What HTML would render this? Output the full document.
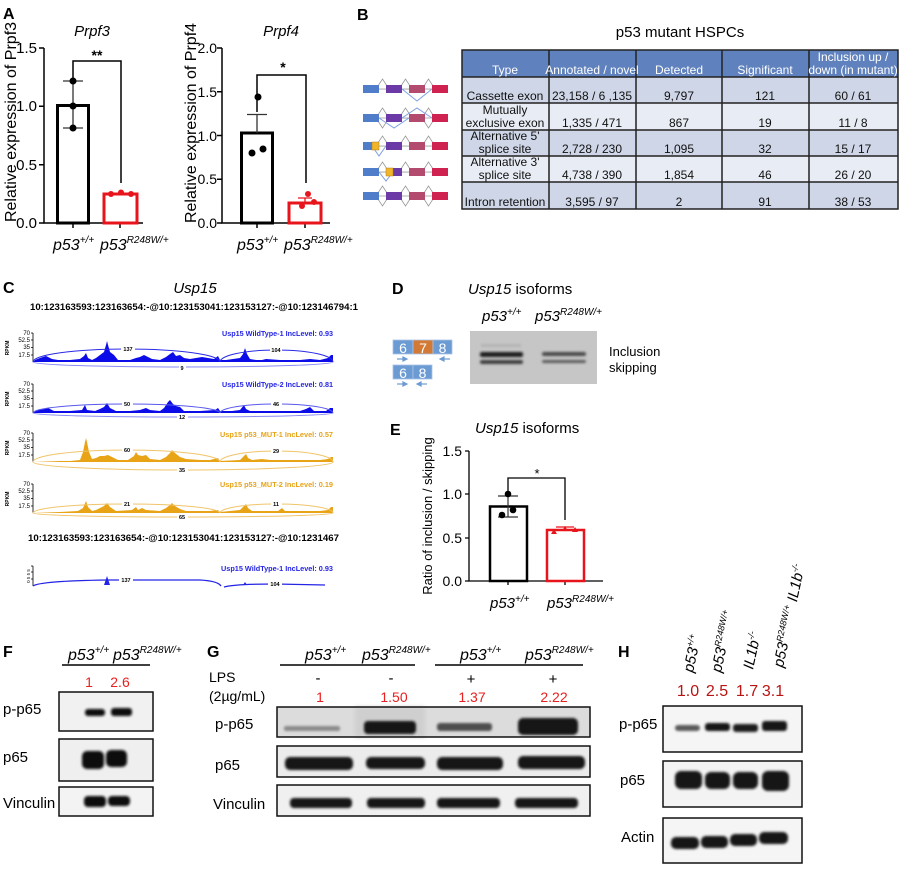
<!DOCTYPE html>
<html><head><meta charset="utf-8"><style>
html,body{margin:0;padding:0;background:#fff;}
svg{display:block;font-family:"Liberation Sans",Arial,sans-serif;}
</style></head><body>
<svg width="900" height="880" viewBox="0 0 900 880" xmlns="http://www.w3.org/2000/svg">
<defs>
<filter id="bl" x="-20%" y="-80%" width="140%" height="260%"><feGaussianBlur stdDeviation="1.2"/></filter>
<filter id="bl2" x="-20%" y="-80%" width="140%" height="260%"><feGaussianBlur stdDeviation="2.2"/></filter>
</defs>
<rect width="900" height="880" fill="#fff"/>

<!-- ===== Panel A ===== -->
<text x="3" y="19" font-size="16" font-weight="bold">A</text>
<text x="92" y="36" font-size="15" font-style="italic" text-anchor="middle">Prpf3</text>
<text x="281" y="36" font-size="15" font-style="italic" text-anchor="middle">Prpf4</text>
<!-- chart 1 -->
<text transform="translate(16,122) rotate(-90)" font-size="16" text-anchor="middle">Relative expression of Prpf3</text>
<g stroke="#000" stroke-width="1.5" fill="none">
<path d="M44,48 V223 H143"/>
<path d="M39,48 H44 M39,106.3 H44 M39,164.7 H44 M39,223 H44"/>
<path d="M73,223 V228 M120,223 V228"/>
</g>
<g font-size="15" text-anchor="end">
<text x="37" y="53">1.5</text><text x="37" y="111">1.0</text><text x="37" y="170">0.5</text><text x="37" y="228">0.0</text>
</g>
<rect x="57.5" y="105.5" width="31" height="117.5" fill="#fff" stroke="#000" stroke-width="3"/>
<path d="M73,81 V128 M63,81 H83 M63,128 H83" stroke="#333" stroke-width="1.3"/>
<circle cx="73" cy="81" r="3.5"/><circle cx="73" cy="106" r="3.5"/><circle cx="73" cy="128" r="3.5"/>
<rect x="104" y="194" width="33" height="29" fill="#fff" stroke="#e8141c" stroke-width="3"/>
<circle cx="111" cy="194" r="3" fill="#e8141c"/><circle cx="121" cy="192.5" r="3" fill="#e8141c"/><circle cx="131" cy="194" r="3" fill="#e8141c"/>
<path d="M73,79 V61 H121 V183" stroke="#000" stroke-width="1.5" fill="none"/>
<text x="97" y="60" font-size="14" text-anchor="middle" font-weight="bold">**</text>
<text x="53" y="250" font-size="16" font-style="italic">p53<tspan font-size="10" dy="-7">+/+</tspan></text>
<text x="100" y="250" font-size="16" font-style="italic">p53<tspan font-size="10" dy="-7">R248W/+</tspan></text>
<!-- chart 2 -->
<text transform="translate(196,123) rotate(-90)" font-size="16" text-anchor="middle">Relative expression of Prpf4</text>
<g stroke="#000" stroke-width="1.5" fill="none">
<path d="M222,48 V223 H330"/>
<path d="M217,48 H222 M217,91.75 H222 M217,135.5 H222 M217,179.25 H222 M217,223 H222"/>
<path d="M257,223 V228 M305,223 V228"/>
</g>
<g font-size="14" text-anchor="end">
<text x="217" y="53">2.0</text><text x="217" y="97">1.5</text><text x="217" y="141">1.0</text><text x="217" y="184">0.5</text><text x="217" y="228">0.0</text>
</g>
<rect x="241.5" y="133" width="31" height="90" fill="#fff" stroke="#000" stroke-width="3"/>
<path d="M257,133 V114.5 M247,114.5 H267" stroke="#333" stroke-width="1.3"/>
<circle cx="258" cy="97" r="3.5"/><circle cx="252" cy="153" r="3.5"/><circle cx="263" cy="149" r="3.5"/>
<rect x="289" y="203" width="32" height="20" fill="#fff" stroke="#e8141c" stroke-width="3"/>
<path d="M305,203 V198 M298,198 H312" stroke="#e8141c" stroke-width="1.3"/>
<circle cx="308" cy="194" r="3" fill="#e8141c"/><circle cx="302" cy="206" r="3" fill="#e8141c"/><circle cx="314" cy="202" r="3" fill="#e8141c"/>
<path d="M257,112 V75 H306 V183" stroke="#000" stroke-width="1.5" fill="none"/>
<text x="283" y="72" font-size="14" text-anchor="middle" font-weight="bold">*</text>
<text x="237" y="250" font-size="16" font-style="italic">p53<tspan font-size="10" dy="-7">+/+</tspan></text>
<text x="284" y="250" font-size="16" font-style="italic">p53<tspan font-size="10" dy="-7">R248W/+</tspan></text>

<!-- ===== Panel B ===== -->
<text x="357" y="20" font-size="16" font-weight="bold">B</text>
<text x="680" y="37" font-size="15" text-anchor="middle">p53 mutant HSPCs</text>
<rect x="462" y="50" width="436" height="27" fill="#5f81bd"/>
<rect x="462" y="77" width="436" height="26" fill="#cfd6e7"/>
<rect x="462" y="103" width="436" height="27" fill="#e8ecf4"/>
<rect x="462" y="130" width="436" height="26" fill="#cfd6e7"/>
<rect x="462" y="156" width="436" height="26" fill="#e8ecf4"/>
<rect x="462" y="182" width="436" height="27" fill="#cfd6e7"/>
<g stroke="#222" stroke-width="1.5" fill="none">
<rect x="462" y="50" width="436" height="159"/>
<path d="M462,77 H898 M462,103 H898 M462,130 H898 M462,156 H898 M462,182 H898"/>
<path d="M549,50 V209 M636,50 V209 M722,50 V209 M809,50 V209"/>
</g>
<g font-size="12" fill="#fff" text-anchor="middle">
<text x="505" y="74">Type</text><text x="592" y="74">Annotated / novel</text><text x="679" y="74">Detected</text><text x="765" y="74">Significant</text>
<text x="853" y="61">Inclusion up /</text><text x="853" y="74">down (in mutant)</text>
</g>
<g font-size="12" fill="#111" text-anchor="middle">
<text x="505" y="100">Cassette exon</text><text x="592" y="100">23,158 / 6 ,135</text><text x="679" y="100">9,797</text><text x="765" y="100">121</text><text x="853" y="100">60 / 61</text>
<text x="505" y="114">Mutually</text><text x="505" y="127">exclusive exon</text><text x="592" y="127">1,335 / 471</text><text x="679" y="127">867</text><text x="765" y="127">19</text><text x="853" y="127">11 / 8</text>
<text x="505" y="140">Alternative 5'</text><text x="505" y="153">splice site</text><text x="592" y="153">2,728 / 230</text><text x="679" y="153">1,095</text><text x="765" y="153">32</text><text x="853" y="153">15 / 17</text>
<text x="505" y="166">Alternative 3'</text><text x="505" y="179">splice site</text><text x="592" y="179">4,738 / 390</text><text x="679" y="179">1,854</text><text x="765" y="179">46</text><text x="853" y="179">26 / 20</text>
<text x="505" y="206">Intron retention</text><text x="592" y="206">3,595 / 97</text><text x="679" y="206">2</text><text x="765" y="206">91</text><text x="853" y="206">38 / 53</text>
</g>
<!-- icons -->
<g stroke="#999" stroke-width="0.8" fill="#fff">
<path d="M363,89 H448" fill="none"/>
<path d="M376,89 L382.5,79 L389,89 Z M399,89 L405.5,79 L412,89 Z M422,89 L428.5,79 L435,89 Z"/>
<path d="M363,118 H448" fill="none"/>
<path d="M376,118 L382.5,108 L389,118 Z M399,118 L405.5,108 L412,118 Z M422,118 L428.5,108 L435,118 Z M376,118 L382.5,128 L389,118 Z M422,118 L428.5,128 L435,118 Z"/>
<path d="M363,146 H448" fill="none"/>
<path d="M376,146 L382.5,136 L389,146 Z M399,146 L405.5,136 L412,146 Z M422,146 L428.5,136 L435,146 Z"/>
<path d="M363,172 H448" fill="none"/>
<path d="M376,172 L382.5,162 L389,172 Z M399,172 L405.5,162 L412,172 Z M422,172 L428.5,162 L435,172 Z"/>
<path d="M363,196 H448" fill="none"/>
<path d="M376,196 L382.5,186 L389,196 Z M399,196 L405.5,186 L412,196 Z M422,196 L428.5,186 L435,196 Z M376,196 L382.5,206 L389,196 Z M399,196 L405.5,206 L412,196 Z M422,196 L428.5,206 L435,196 Z"/>
</g>
<g stroke="#7da0e0" stroke-width="1" fill="none">
<path d="M402,89 L417,101 L432,89"/>
<path d="M402,118 L417,108 L432,118 M379,118 L394,128 L409,118"/>
<path d="M372,146 L379,156 L386,146"/>
<path d="M379,172 L386,181 L393,172"/>
</g>
<g>
<rect x="363" y="85" width="16" height="8" fill="#4f7dc9"/><rect x="386" y="85" width="16" height="8" fill="#6b3aa6"/><rect x="409" y="85" width="16" height="8" fill="#b34b6e"/><rect x="432" y="85" width="16" height="8" fill="#cf2250"/>
<rect x="363" y="114" width="16" height="8" fill="#4f7dc9"/><rect x="386" y="114" width="16" height="8" fill="#6b3aa6"/><rect x="409" y="114" width="16" height="8" fill="#b34b6e"/><rect x="432" y="114" width="16" height="8" fill="#cf2250"/>
<rect x="363" y="142" width="16" height="8" fill="#4f7dc9"/><rect x="372" y="142" width="7" height="8" fill="#f0b52a" stroke="#b08020" stroke-width="0.5"/><rect x="386" y="142" width="16" height="8" fill="#6b3aa6"/><rect x="409" y="142" width="16" height="8" fill="#b34b6e"/><rect x="432" y="142" width="16" height="8" fill="#cf2250"/>
<rect x="363" y="168" width="16" height="8" fill="#4f7dc9"/><rect x="386" y="168" width="16" height="8" fill="#6b3aa6"/><rect x="386" y="168" width="7" height="8" fill="#f0b52a" stroke="#b08020" stroke-width="0.5"/><rect x="409" y="168" width="16" height="8" fill="#b34b6e"/><rect x="432" y="168" width="16" height="8" fill="#cf2250"/>
<rect x="363" y="192" width="16" height="8" fill="#4f7dc9"/><rect x="386" y="192" width="16" height="8" fill="#6b3aa6"/><rect x="409" y="192" width="16" height="8" fill="#b34b6e"/><rect x="432" y="192" width="16" height="8" fill="#cf2250"/>
</g>

<!-- ===== Panel C ===== -->
<text x="3" y="293" font-size="16" font-weight="bold">C</text>
<text x="195" y="293" font-size="15" font-style="italic" text-anchor="middle">Usp15</text>
<text x="30" y="310" font-size="9" font-weight="bold" textLength="328" lengthAdjust="spacingAndGlyphs">10:123163593:123163654:-@10:123153041:123153127:-@10:123146794:1</text>
<g stroke="#000" stroke-width="0.8" fill="none">
<path d="M33,333 V362 M31,333 H33 M31,340 H33 M31,347.5 H33 M31,355 H33"/>
<path d="M33,384 V413 M31,384 H33 M31,391 H33 M31,398.5 H33 M31,406 H33"/>
<path d="M33,433 V462 M31,433 H33 M31,440 H33 M31,447.5 H33 M31,455 H33"/>
<path d="M33,484 V513 M31,484 H33 M31,491 H33 M31,498.5 H33 M31,506 H33"/>
<path d="M33,566 V586 M31,566 H33 M31,572 H33 M31,579 H33"/>
</g>
<g font-size="6" text-anchor="end">
<text x="30" y="335">70</text><text x="30" y="342">52.5</text><text x="30" y="349">35</text><text x="30" y="357">17.5</text>
<text x="30" y="386">70</text><text x="30" y="393">52.5</text><text x="30" y="400">35</text><text x="30" y="408">17.5</text>
<text x="30" y="435">70</text><text x="30" y="442">52.5</text><text x="30" y="449">35</text><text x="30" y="457">17.5</text>
<text x="30" y="486">70</text><text x="30" y="493">52.5</text><text x="30" y="500">35</text><text x="30" y="508">17.5</text>
</g>
<g font-size="5" font-weight="bold" text-anchor="middle">
<text transform="translate(9,348) rotate(-90)">RPKM</text>
<text transform="translate(9,399) rotate(-90)">RPKM</text>
<text transform="translate(9,448) rotate(-90)">RPKM</text>
<text transform="translate(9,499) rotate(-90)">RPKM</text>
</g>
<g font-size="4.5" text-anchor="middle"><text transform="translate(30,576) rotate(-90)">0 5 5 5</text></g>
<g font-size="7" font-weight="bold" text-anchor="end">
<text x="333" y="336" fill="#2424e6" textLength="111" lengthAdjust="spacingAndGlyphs">Usp15 WildType-1 IncLevel: 0.93</text>
<text x="333" y="387" fill="#2424e6" textLength="111" lengthAdjust="spacingAndGlyphs">Usp15 WildType-2 IncLevel: 0.81</text>
<text x="333" y="437" fill="#e8a317" textLength="113" lengthAdjust="spacingAndGlyphs">Usp15 p53_MUT-1 IncLevel: 0.57</text>
<text x="333" y="487" fill="#e8a317" textLength="113" lengthAdjust="spacingAndGlyphs">Usp15 p53_MUT-2 IncLevel: 0.19</text>
<text x="333" y="571" fill="#2424e6" textLength="112" lengthAdjust="spacingAndGlyphs">Usp15 WildType-1 IncLevel: 0.93</text>
</g>
<path fill="#0c0ce8" d="M33,362 L35,360 L40,358 L46,356 L52,359 L58,360 L70,360 L80,359 L84,356 L86,353 L88,358 L92,360 L96,358 L100,355 L104,352 L106,345 L107,341 L108,345 L110,352 L114,355 L118,360 L130,360 L136,358 L140,357 L144,355 L148,357 L152,359 L160,360 L166,357 L170,354 L173,352 L176,356 L180,355 L184,358 L190,359 L196,358 L202,357 L208,358 L214,359 L218,356 L220,360 L226,360 L240,358 L243,354 L245,348 L247,354 L250,359 L256,360 L262,360 L266,359 L280,360 L300,360 L310,359 L320,360 L328,358 L331,355 L333,355 L333,362 Z"/>
<path fill="#0c0ce8" d="M33,413 L36,411 L42,409 L48,408 L54,411 L70,411 L82,410 L85,405 L87,410 L95,411 L100,409 L104,407 L107,403 L110,408 L116,411 L130,411 L140,410 L146,408 L150,410 L160,411 L164,408 L168,402 L170,400 L173,404 L176,406 L180,407 L184,411 L200,411 L215,410 L218,408 L220,411 L232,411 L240,410 L244,405 L246,409 L250,411 L300,411 L306,409 L310,407 L314,411 L326,411 L330,408 L333,408 L333,413 Z"/>
<path fill="#e8a317" d="M33,462 L60,461 L70,461 L80,460 L83,452 L85,442 L86,438 L87,442 L89,452 L92,459 L96,458 L100,456 L104,456 L108,455 L112,457 L118,460 L128,460 L134,456 L136,452 L138,455 L142,456 L146,455 L150,459 L160,460 L166,457 L170,453 L172,450 L175,453 L180,457 L186,459 L200,460 L210,460 L218,458 L220,461 L240,460 L244,456 L246,454 L248,458 L252,460 L262,459 L270,460 L300,460 L320,460 L328,459 L331,457 L333,457 L333,462 Z"/>
<path fill="#e8a317" d="M33,513 L60,512 L78,511 L83,508 L86,501 L88,507 L92,511 L96,510 L100,508 L104,506 L107,503 L110,507 L116,511 L132,510 L136,507 L138,510 L142,508 L146,510 L160,511 L166,508 L170,505 L172,503 L175,506 L180,509 L186,511 L210,511 L218,510 L220,512 L240,510 L244,506 L246,504 L248,508 L252,511 L278,511 L282,508 L285,511 L320,511 L328,510 L331,507 L333,507 L333,513 Z"/>
<g fill="none" stroke-width="1">
<path d="M33,362 A93.5,13 0 0 1 220,362 M220,362 A56.5,12 0 0 1 333,362" stroke="#2a2ae8"/>
<path d="M33,362 A150,5 0 0 0 333,362" stroke="#8a8af5"/>
<path d="M33,413 A93.5,9 0 0 1 220,413 M220,413 A56.5,9 0 0 1 333,413" stroke="#5858ee"/>
<path d="M33,413 A150,4 0 0 0 333,413" stroke="#8a8af5"/>
<path d="M33,462 A93.5,12 0 0 1 220,462 M220,462 A56.5,11 0 0 1 333,462" stroke="#f0c46a"/>
<path d="M33,462 A150,8 0 0 0 333,462" stroke="#f0c46a"/>
<path d="M33,513 A93.5,9 0 0 1 220,513 M220,513 A56.5,9 0 0 1 333,513" stroke="#f0c46a"/>
<path d="M33,513 A150,4 0 0 0 333,513" stroke="#f0c46a"/>
<path d="M33,586 Q40,581 107,580 L200,580 Q218,581 221,586 M224,587 Q235,584 275,584 L325,585" stroke="#2424e6" stroke-width="1.3"/>
</g>
<path d="M104,585 L107,576 L110,585 Z M243,585 L245,582 L247,585 Z" fill="#2424e6"/>
<g font-size="5.5" font-weight="bold" text-anchor="middle">
<rect x="121" y="346" width="14" height="6" fill="#fff"/><text x="128" y="351">137</text>
<rect x="270" y="347" width="12" height="6" fill="#fff"/><text x="276" y="352">104</text>
<rect x="179" y="365" width="7" height="6" fill="#fff"/><text x="182" y="370">9</text>
<rect x="122" y="401" width="11" height="6" fill="#fff"/><text x="127" y="406">50</text>
<rect x="271" y="401" width="11" height="6" fill="#fff"/><text x="276" y="406">46</text>
<rect x="177" y="414" width="11" height="6" fill="#fff"/><text x="182" y="419">12</text>
<rect x="122" y="447" width="11" height="6" fill="#fff"/><text x="127" y="452">60</text>
<rect x="271" y="448" width="11" height="6" fill="#fff"/><text x="276" y="453">29</text>
<rect x="177" y="467" width="11" height="6" fill="#fff"/><text x="182" y="472">35</text>
<rect x="122" y="501" width="11" height="6" fill="#fff"/><text x="127" y="506">21</text>
<rect x="271" y="501" width="11" height="6" fill="#fff"/><text x="276" y="506">11</text>
<rect x="177" y="514" width="11" height="6" fill="#fff"/><text x="182" y="519">65</text>
<rect x="119" y="577" width="14" height="6" fill="#fff"/><text x="126" y="582">137</text>
<rect x="268" y="581" width="14" height="6" fill="#fff"/><text x="275" y="586">104</text>
</g>
<text x="28" y="541" font-size="9" font-weight="bold" textLength="311" lengthAdjust="spacingAndGlyphs">10:123163593:123163654:-@10:123153041:123153127:-@10:1231467</text>

<!-- ===== Panel D ===== -->
<text x="392" y="294" font-size="16" font-weight="bold">D</text>
<text x="468" y="294" font-size="15"><tspan font-style="italic">Usp15</tspan> isoforms</text>
<g stroke="#a9c3e6" stroke-width="0.8">
<rect x="393" y="340" width="20" height="14" fill="#6c9bd3"/><rect x="413" y="340" width="20" height="14" fill="#d27a35"/><rect x="433" y="340" width="19" height="14" fill="#6c9bd3"/>
<rect x="393" y="365" width="20" height="14" fill="#6c9bd3"/><rect x="413" y="365" width="19" height="14" fill="#6c9bd3"/>
</g>
<g font-size="14" fill="#fff" text-anchor="middle">
<text x="403" y="353">6</text><text x="423" y="353">7</text><text x="442.5" y="353">8</text>
<text x="403" y="378">6</text><text x="422.5" y="378">8</text>
</g>
<g stroke="#6c9bd3" stroke-width="1.2" fill="#6c9bd3">
<path d="M397,359 H405" fill="none"/><path d="M407,359 L403,357 L403,361 Z"/>
<path d="M442,359 H450" fill="none"/><path d="M440,359 L444,357 L444,361 Z"/>
<path d="M397,384 H405" fill="none"/><path d="M407,384 L403,382 L403,386 Z"/>
<path d="M419,384 H427" fill="none"/><path d="M417,384 L421,382 L421,386 Z"/>
</g>
<text x="482" y="321" font-size="15" font-style="italic">p53<tspan font-size="10" dy="-6">+/+</tspan></text>
<text x="535" y="321" font-size="15" font-style="italic">p53<tspan font-size="10" dy="-6">R248W/+</tspan></text>
<rect x="470" y="331" width="127" height="53" fill="#c6c6c6"/>
<g filter="url(#bl)">
<rect x="481" y="344" width="40" height="3" fill="#b4b4b4"/>
<rect x="480" y="352" width="43" height="5" fill="#1e1e1e" rx="2"/>
<rect x="480" y="360" width="43" height="4" fill="#3c3c3c" rx="2"/>
<rect x="542" y="352" width="44" height="4" fill="#4a4a4a" rx="2"/>
<rect x="542" y="360" width="44" height="3" fill="#5a5a5a" rx="2"/>
</g>
<text x="609" y="356" font-size="13">Inclusion</text>
<text x="609" y="372" font-size="13">skipping</text>

<!-- ===== Panel E ===== -->
<text x="390" y="435" font-size="16" font-weight="bold">E</text>
<text x="475" y="433" font-size="15"><tspan font-style="italic">Usp15</tspan> isoforms</text>
<text transform="translate(432,516) rotate(-90)" font-size="13" text-anchor="middle">Ratio of inclusion / skipping</text>
<g stroke="#000" stroke-width="1.3" fill="none">
<path d="M469,451 V581 H603"/>
<path d="M465,451 H469 M465,494 H469 M465,538 H469 M465,581 H469"/>
<path d="M508,581 V585 M565,581 V585"/>
</g>
<g font-size="14" text-anchor="end">
<text x="462" y="456">1.5</text><text x="462" y="499">1.0</text><text x="462" y="543">0.5</text><text x="462" y="586">0.0</text>
</g>
<rect x="490" y="506.5" width="37" height="74.5" fill="#fff" stroke="#000" stroke-width="2.5"/>
<path d="M508,496 V517 M498,496 H518 M498,517 H518" stroke="#333" stroke-width="1.2"/>
<circle cx="508" cy="494" r="3.3"/><circle cx="513" cy="510" r="3.3"/><circle cx="502" cy="515" r="3.3"/>
<rect x="547" y="530" width="37" height="51" fill="#fff" stroke="#e8141c" stroke-width="2.5"/>
<path d="M556,527 H574 M565,527 V530" stroke="#e8141c" stroke-width="1.2"/>
<path d="M551,534 L554,529 L557,534 Z M562,531 L565,526 L568,531 Z M572,532 L575,527 L578,532 Z" fill="#e8141c"/>
<path d="M508,493 V478 H565 V520" stroke="#000" stroke-width="1.3" fill="none"/>
<text x="537" y="478" font-size="13" text-anchor="middle">*</text>
<text x="490" y="608" font-size="15" font-style="italic">p53<tspan font-size="10" dy="-6">+/+</tspan></text>
<text x="547" y="608" font-size="15" font-style="italic">p53<tspan font-size="10" dy="-6">R248W/+</tspan></text>

<!-- ===== Panel F ===== -->
<text x="3" y="657" font-size="16" font-weight="bold">F</text>
<text x="68" y="660" font-size="16" font-style="italic">p53<tspan font-size="10" dy="-7">+/+</tspan></text>
<text x="113" y="660" font-size="16" font-style="italic">p53<tspan font-size="10" dy="-7">R248W/+</tspan></text>
<path d="M62,665 H150" stroke="#000" stroke-width="1.5"/>
<text x="89" y="687" font-size="14" fill="#e82020" text-anchor="middle">1</text>
<text x="120" y="687" font-size="14" fill="#e82020" text-anchor="middle">2.6</text>
<g font-size="15">
<text x="3" y="714">p-p65</text><text x="3" y="762">p65</text><text x="3" y="808">Vinculin</text>
</g>
<rect x="59" y="692" width="94" height="39" fill="#f1f1f1"/>
<rect x="59" y="739" width="94" height="42" fill="#efefef"/>
<rect x="59" y="787" width="94" height="29" fill="#f3f3f3"/>
<g filter="url(#bl)" fill="#111">
<rect x="85" y="709" width="20" height="7" rx="3"/><rect x="111" y="708" width="21" height="8" rx="3"/>
<rect x="82" y="751" width="22" height="18" rx="5"/><rect x="106" y="750" width="21" height="17" rx="5"/>
<rect x="84" y="796" width="22" height="11" rx="4"/><rect x="108" y="796" width="22" height="10" rx="4"/>
</g>
<g stroke="#111" stroke-width="1.5" fill="none">
<rect x="59" y="692" width="94" height="39"/><rect x="59" y="739" width="94" height="42"/><rect x="59" y="787" width="94" height="29"/>
</g>

<!-- ===== Panel G ===== -->
<text x="207" y="657" font-size="16" font-weight="bold">G</text>
<text x="305" y="660" font-size="16" font-style="italic">p53<tspan font-size="10" dy="-7">+/+</tspan></text>
<text x="362" y="660" font-size="16" font-style="italic">p53<tspan font-size="10" dy="-7">R248W/+</tspan></text>
<text x="460" y="660" font-size="16" font-style="italic">p53<tspan font-size="10" dy="-7">+/+</tspan></text>
<text x="525" y="660" font-size="16" font-style="italic">p53<tspan font-size="10" dy="-7">R248W/+</tspan></text>
<path d="M280,665 H415 M435,665 H583" stroke="#000" stroke-width="1.5"/>
<text x="209" y="682" font-size="14">LPS</text>
<text x="209" y="701" font-size="14">(2µg/mL)</text>
<g font-size="15" text-anchor="middle">
<text x="318" y="683">-</text><text x="391" y="683">-</text><text x="471" y="684">+</text><text x="553" y="684">+</text>
</g>
<g font-size="14" fill="#e82020" text-anchor="middle">
<text x="320" y="702">1</text><text x="394" y="702">1.50</text><text x="472" y="702">1.37</text><text x="554" y="702">2.22</text>
</g>
<g font-size="15">
<text x="215" y="729">p-p65</text><text x="215" y="770">p65</text><text x="213" y="809">Vinculin</text>
</g>
<rect x="277" y="707" width="313" height="30" fill="#dcdcdc"/>
<rect x="355" y="707" width="70" height="30" fill="#cfcfcf" filter="url(#bl2)"/>
<rect x="277" y="746" width="313" height="31" fill="#ececec"/>
<rect x="277" y="785" width="313" height="31" fill="#f0f0f0"/>
<g filter="url(#bl)">
<rect x="284" y="726" width="56" height="5" rx="2" fill="#8a8a8a"/>
<rect x="364" y="721" width="52" height="13" rx="4" fill="#161616"/>
<rect x="437" y="723" width="55" height="8" rx="3" fill="#4e4e4e"/>
<rect x="518" y="718" width="60" height="17" rx="5" fill="#141414"/>
<rect x="285" y="757" width="68" height="13" rx="5" fill="#141414"/>
<rect x="366" y="757" width="59" height="12" rx="5" fill="#161616"/>
<rect x="437" y="757" width="66" height="13" rx="5" fill="#141414"/>
<rect x="518" y="756" width="67" height="13" rx="5" fill="#141414"/>
<rect x="290" y="798" width="62" height="10" rx="4" fill="#141414"/>
<rect x="367" y="798" width="58" height="10" rx="4" fill="#161616"/>
<rect x="437" y="798" width="63" height="10" rx="4" fill="#141414"/>
<rect x="515" y="798" width="63" height="10" rx="4" fill="#161616"/>
</g>
<g stroke="#111" stroke-width="1.5" fill="none">
<rect x="277" y="707" width="313" height="30"/><rect x="277" y="746" width="313" height="31"/><rect x="277" y="785" width="313" height="31"/>
</g>

<!-- ===== Panel H ===== -->
<text x="618" y="657" font-size="16" font-weight="bold">H</text>
<g font-size="15" font-style="italic">
<text transform="translate(693,673) rotate(-78)">p53<tspan font-size="9" dy="-6">+/+</tspan></text>
<text transform="translate(721,673) rotate(-78)">p53<tspan font-size="9" dy="-6">R248W/+</tspan></text>
<text transform="translate(753,670) rotate(-78)">IL1b<tspan font-size="9" dy="-6">-/-</tspan></text>
<text transform="translate(783,668) rotate(-78)">p53<tspan font-size="9" dy="-6">R248W/+</tspan><tspan dy="6"> IL1b</tspan><tspan font-size="9" dy="-6">-/-</tspan></text>
</g>
<g font-size="16" fill="#b81414" text-anchor="middle">
<text x="688" y="696">1.0</text><text x="717" y="696">2.5</text><text x="747" y="696">1.7</text><text x="773" y="696">3.1</text>
</g>
<g font-size="15">
<text x="619" y="729">p-p65</text><text x="620" y="785">p65</text><text x="621" y="842">Actin</text>
</g>
<rect x="663" y="706" width="139" height="46" fill="#f5f5f5"/>
<rect x="663" y="761" width="139" height="46" fill="#f3f3f3"/>
<rect x="663" y="818" width="139" height="45" fill="#f5f5f5"/>
<g filter="url(#bl)">
<rect x="675" y="725" width="25" height="6" rx="3" fill="#5a5a5a"/>
<rect x="705" y="723" width="25" height="8" rx="3" fill="#141414"/>
<rect x="733" y="724" width="25" height="8" rx="3" fill="#1a1a1a"/>
<rect x="762" y="721" width="25" height="10" rx="3" fill="#141414"/>
<rect x="675" y="771" width="27" height="18" rx="6" fill="#121212"/>
<rect x="705" y="772" width="25" height="17" rx="6" fill="#141414"/>
<rect x="733" y="772" width="25" height="17" rx="6" fill="#121212"/>
<rect x="762" y="771" width="27" height="20" rx="6" fill="#121212"/>
<rect x="671" y="837" width="28" height="12" rx="5" fill="#121212"/>
<rect x="701" y="836" width="27" height="12" rx="5" fill="#141414"/>
<rect x="730" y="834" width="27" height="12" rx="5" fill="#121212"/>
<rect x="759" y="832" width="29" height="12" rx="5" fill="#141414"/>
</g>
<g stroke="#111" stroke-width="1.5" fill="none">
<rect x="663" y="706" width="139" height="46"/><rect x="663" y="761" width="139" height="46"/><rect x="663" y="818" width="139" height="45"/>
</g>
</svg>
</body></html>
